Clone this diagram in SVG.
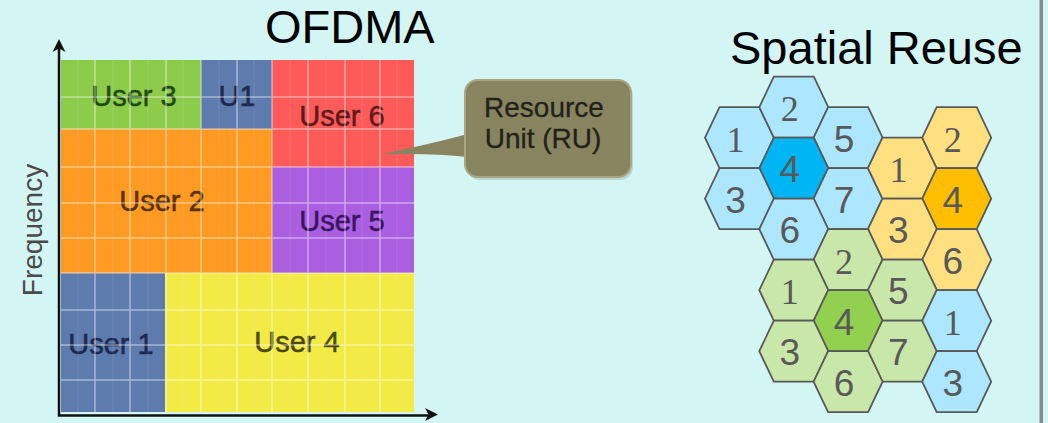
<svg xmlns="http://www.w3.org/2000/svg" xmlns:xlink="http://www.w3.org/1999/xlink" width="1048" height="423" viewBox="0 0 1048 423">
<style>
.title{font-family:"Liberation Sans",Arial,sans-serif;font-size:47px;fill:#000}
.ut{font-family:"Liberation Sans",Arial,sans-serif;font-size:29px;text-anchor:middle;stroke-width:0.5}
.cl{font-family:"Liberation Sans",Arial,sans-serif;font-size:28px;text-anchor:middle;fill:#22211a;stroke:#22211a;stroke-width:0.3}
.gl{stroke:#ffffff;stroke-opacity:0.45;stroke-width:1.5}
.gf{stroke:#ffffff;stroke-opacity:0.12;stroke-width:1}
.hx{stroke:#595959;stroke-width:1.8}
.lb{fill:#ADE7FF}.db{fill:#00B5F4}
.lo{fill:#FFE081}.do{fill:#FFBF00}
.lg{fill:#C9E7A9}.dg{fill:#92D050}
.ns{font-family:"Liberation Serif","Times New Roman",serif;font-size:36px;fill:#595959;text-anchor:middle}
.nn{font-family:"Liberation Sans",Arial,sans-serif;font-size:37px;fill:#595959;text-anchor:middle}
.ax{stroke:#111;stroke-width:2.5;fill:none}
</style>
<defs>
<path id="hex" d="M-34.5,0 L-20,-30.5 L20,-30.5 L34.5,0 L20,30.5 L-20,30.5 Z"/>
</defs>
<rect x="0" y="0" width="1048" height="423" fill="#D3F5F4"/>
<rect x="1039.5" y="0" width="3.5" height="423" fill="#8a8a8a"/>

<text class="title" x="265" y="42.5">OFDMA</text>
<text class="title" x="730" y="63.5">Spatial Reuse</text>

<g id="chart">
  <g id="user3"><rect x="61" y="60" width="140" height="69" fill="#8DCB4B"/><text class="ut" x="134" y="106" fill="#1f4a12" stroke="#1f4a12">User 3</text></g>
  <g id="u1"><rect x="201" y="60" width="71" height="69" fill="#5E7BAE"/><text class="ut" x="237" y="106" fill="#1c2a4e" stroke="#1c2a4e">U1</text></g>
  <g id="user6"><rect x="272" y="60" width="142" height="107" fill="#FF5A5A"/><text class="ut" x="342" y="126" fill="#5e1a1a" stroke="#5e1a1a">User 6</text></g>
  <g id="user2"><rect x="61" y="129" width="211" height="144" fill="#FF9A22"/><text class="ut" x="162" y="210.5" fill="#5a3205" stroke="#5a3205">User 2</text></g>
  <g id="user5"><rect x="272" y="167" width="142" height="106" fill="#AA5EE0"/><text class="ut" x="342" y="230.5" fill="#3a1460" stroke="#3a1460">User 5</text></g>
  <g id="user1"><rect x="61" y="273" width="104" height="139" fill="#5E7BAE"/><text class="ut" x="111" y="354" fill="#1c2a4e" stroke="#1c2a4e">User 1</text></g>
  <g id="user4"><rect x="165" y="273" width="249" height="139" fill="#F2EA45"/><text class="ut" x="297" y="351.5" fill="#4b4812" stroke="#4b4812">User 4</text></g>
  <g id="grid">
    <path class="gf" d="M78,60V412M113,60V412M148,60V412M183,60V412M219,60V412M254,60V412M290,60V412M326,60V412M362,60V412M397,60V412"/>
    <path class="gl" d="M95,60V412M130,60V412M166,60V412M201,60V412M237,60V412M272,60V412M308,60V412M345,60V412M380,60V412M61,97H414M61,129H414M61,167H414M61,203H414M61,238H414M61,273H414M61,310H414M61,345H414M61,380H414"/>
  </g>
  <text x="42" y="230" transform="rotate(-90 42 230)" font-family="Liberation Sans, Arial, sans-serif" font-size="28" fill="#4a4a4a" text-anchor="middle">Frequency</text>
</g>

<g id="connectors">
  <path class="ax" d="M59,47V415.5H430"/>
  <path d="M59,39 L52.5,52 L59,48.5 L65.5,52 Z" fill="#111"/>
  <path d="M438,414.5 L425,408 L428.5,414.5 L425,421 Z" fill="#111"/>
</g>

<g id="callout">
  <rect x="467" y="83" width="166" height="97" rx="13" fill="#000" opacity="0.12"/>
  <path d="M385,153.5 Q430,144 468,134 L468,157 Q430,153 385,154.5 Z" fill="#88845F"/>
  <rect x="465" y="80" width="166" height="97" rx="13" fill="#88845F" stroke="#A9A682" stroke-width="2"/>
  <text class="cl" x="544" y="116.5">Resource</text>
  <text class="cl" x="543" y="147.5">Unit (RU)</text>
</g>

<g id="hexes">
  <g id="b1"><use xlink:href="#hex" x="739.5" y="137.7" class="hx lb"/><text class="ns" x="735.5" y="151.7">1</text></g>
  <g id="b2"><use xlink:href="#hex" x="793.8" y="107.2" class="hx lb"/><text class="ns" x="789.8" y="121.2">2</text></g>
  <g id="b5"><use xlink:href="#hex" x="848.1" y="137.7" class="hx lb"/><text class="nn" x="844.1" y="151.7">5</text></g>
  <g id="b4"><use xlink:href="#hex" x="793.8" y="168.2" class="hx db"/><text class="nn" x="789.8" y="182.2">4</text></g>
  <g id="b3"><use xlink:href="#hex" x="739.5" y="198.7" class="hx lb"/><text class="nn" x="735.5" y="212.7">3</text></g>
  <g id="b7"><use xlink:href="#hex" x="848.1" y="198.7" class="hx lb"/><text class="nn" x="844.1" y="212.7">7</text></g>
  <g id="b6"><use xlink:href="#hex" x="793.8" y="229.2" class="hx lb"/><text class="nn" x="789.8" y="243.2">6</text></g>

  <g id="o1"><use xlink:href="#hex" x="902.4" y="168.2" class="hx lo"/><text class="ns" x="898.4" y="182.2">1</text></g>
  <g id="o2"><use xlink:href="#hex" x="956.7" y="137.7" class="hx lo"/><text class="ns" x="952.7" y="151.7">2</text></g>
  <g id="o4"><use xlink:href="#hex" x="956.7" y="198.7" class="hx do"/><text class="nn" x="952.7" y="212.7">4</text></g>
  <g id="o3"><use xlink:href="#hex" x="902.4" y="229.2" class="hx lo"/><text class="nn" x="898.4" y="243.2">3</text></g>
  <g id="o6"><use xlink:href="#hex" x="956.7" y="259.7" class="hx lo"/><text class="nn" x="952.7" y="273.7">6</text></g>

  <g id="g2"><use xlink:href="#hex" x="848.1" y="259.7" class="hx lg"/><text class="ns" x="844.1" y="273.7">2</text></g>
  <g id="g1"><use xlink:href="#hex" x="793.8" y="290.2" class="hx lg"/><text class="ns" x="789.8" y="304.2">1</text></g>
  <g id="g5"><use xlink:href="#hex" x="902.4" y="290.2" class="hx lg"/><text class="nn" x="898.4" y="304.2">5</text></g>
  <g id="g4"><use xlink:href="#hex" x="848.1" y="320.7" class="hx dg"/><text class="nn" x="844.1" y="334.7">4</text></g>
  <g id="g3"><use xlink:href="#hex" x="793.8" y="351.2" class="hx lg"/><text class="nn" x="789.8" y="365.2">3</text></g>
  <g id="g7"><use xlink:href="#hex" x="902.4" y="351.2" class="hx lg"/><text class="nn" x="898.4" y="365.2">7</text></g>
  <g id="g6"><use xlink:href="#hex" x="848.1" y="381.7" class="hx lg"/><text class="nn" x="844.1" y="395.7">6</text></g>

  <g id="c1"><use xlink:href="#hex" x="956.7" y="320.7" class="hx lb"/><text class="ns" x="952.7" y="334.7">1</text></g>
  <g id="c3"><use xlink:href="#hex" x="956.7" y="381.7" class="hx lb"/><text class="nn" x="952.7" y="395.7">3</text></g>
</g>
</svg>
